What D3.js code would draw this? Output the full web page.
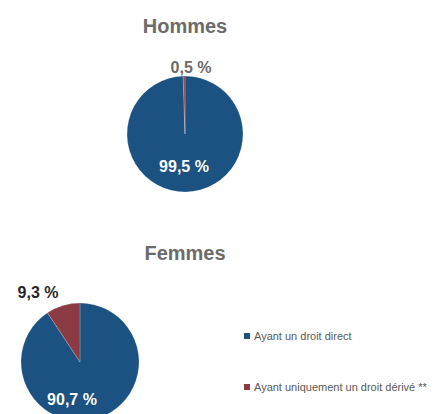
<!DOCTYPE html>
<html>
<head>
<meta charset="utf-8">
<script src="https://cdn.jsdelivr.net/npm/d3@7"></script>
<style>
  body { margin: 0; background: #fff; }
  svg { font-family: "Liberation Sans", Arial, sans-serif; }
</style>
</head>
<body>
<div id="chart"></div>
<script>
  'use strict';

  var categories = ["Ayant un droit direct", "Ayant uniquement un droit dérivé **"];
  var hommes = [99.5, 0.5];
  var femmes = [90.7, 9.3];
  var colors = ["#1b5282", "#8c3b44"];

  var w = 433, h = 414;
  var svg = d3.select("#chart").append("svg").attr("width", w).attr("height", h);

  var pie = d3.pie().sort(null);
  var fmt = function(v) { return String(v).replace(".", ",") + " %"; };

  // inLabel / outLabel : offsets from the pie centre
  function drawPie(title, values, cx, cy, r, titleY, inLabel, outLabel) {
    svg.append("text").attr("x", 185).attr("y", titleY)
      .attr("text-anchor", "middle").style("font-size", "20px")
      .style("font-weight", "bold").style("fill", "#6b6b6b").text(title);

    var g = svg.append("g").attr("transform", "translate(" + cx + "," + cy + ")");
    var arc = d3.arc().innerRadius(0).outerRadius(r);
    g.selectAll("path").data(pie(values)).enter().append("path")
      .attr("d", arc).style("fill", function(d, i) { return colors[i]; })
      .style("stroke", "#fff").style("stroke-width", 0.2);

    g.append("text").attr("x", inLabel[0]).attr("y", inLabel[1])
      .attr("text-anchor", "middle").style("font-size", "16px")
      .style("font-weight", "bold").style("fill", "#fff").text(fmt(values[0]));

    g.append("text").attr("x", outLabel[0]).attr("y", outLabel[1])
      .attr("text-anchor", "middle").style("font-size", "16px")
      .style("font-weight", "bold").style("fill", outLabel[2]).text(fmt(values[1]));
  }

  drawPie("Hommes", hommes, 185, 134, 58, 33, [-1, 38], [6, -61, "#6b6b6b"]);
  drawPie("Femmes", femmes, 80, 362, 59, 260, [-8, 43], [-42, -64, "#262626"]);

  var legend = svg.append("g").attr("transform", "translate(244,0)");
  var ly = d3.scalePoint().domain(categories).range([336, 387]);
  legend.selectAll("rect").data(categories).enter().append("rect")
    .attr("x", 0).attr("y", function(d) { return ly(d) - 3; })
    .attr("width", 6).attr("height", 6)
    .style("fill", function(d, i) { return colors[i]; });
  legend.selectAll("text").data(categories).enter().append("text")
    .attr("x", 10).attr("y", function(d) { return ly(d) + 4; })
    .style("font-size", "11px").style("fill", "#595959").text(function(d) { return d; });
</script>
</body>
</html>
